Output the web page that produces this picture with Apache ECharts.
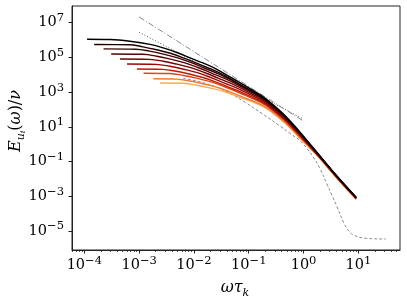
<!DOCTYPE html>
<html><head><meta charset="utf-8">
<script src="https://cdn.jsdelivr.net/npm/echarts@6/dist/echarts.min.js"></script>
<style>html,body{margin:0;padding:0;background:#fff}#c{width:407px;height:303px}</style>
</head><body><div id="c"></div>
<script>
// All values are log10(omega*tau_k) and log10(E/nu)
const xTickExponents = [-4, -3, -2, -1, 0, 1];
const yTickExponents = [-5, -3, -1, 1, 3, 5, 7];

const spectrum1 = [[-3.95,6.05],[-3.53,6.03],[-3.17,5.93],[-2.80,5.75],[-2.56,5.55],[-2.30,5.27],[-2.07,4.97],[-1.85,4.70],[-1.65,4.42],[-1.40,3.98],[-1.16,3.55],[-0.79,2.84],[-0.61,2.42],[-0.34,1.66],[-0.06,0.68],[0.30,-0.68],[0.60,-1.80],[0.96,-3.06]];
const spectrum2 = [[-3.82,5.74],[-3.18,5.73],[-2.93,5.61],[-2.68,5.44],[-2.43,5.24],[-2.18,4.96],[-1.93,4.64],[-1.68,4.32],[-1.43,3.94],[-1.16,3.45],[-0.79,2.77],[-0.61,2.36],[-0.34,1.61],[-0.06,0.64],[0.30,-0.70],[0.60,-1.82],[0.96,-3.07]];
const spectrum3 = [[-3.65,5.49],[-3.06,5.47],[-2.81,5.36],[-2.56,5.19],[-2.31,4.99],[-2.06,4.71],[-1.81,4.39],[-1.56,4.07],[-1.31,3.69],[-1.16,3.41],[-0.79,2.75],[-0.61,2.34],[-0.34,1.59],[-0.06,0.62],[0.30,-0.70],[0.60,-1.82],[0.96,-3.08]];
const spectrum4 = [[-3.51,5.20],[-2.93,5.18],[-2.68,5.07],[-2.43,4.90],[-2.18,4.70],[-1.93,4.42],[-1.68,4.10],[-1.43,3.78],[-1.16,3.36],[-0.79,2.71],[-0.61,2.31],[-0.34,1.56],[-0.06,0.60],[0.30,-0.71],[0.60,-1.83],[0.96,-3.08]];
const spectrum5 = [[-3.35,4.91],[-2.81,4.89],[-2.56,4.78],[-2.31,4.61],[-2.06,4.41],[-1.81,4.13],[-1.56,3.81],[-1.31,3.49],[-1.16,3.26],[-0.79,2.64],[-0.61,2.25],[-0.34,1.51],[-0.06,0.56],[0.30,-0.73],[0.60,-1.84],[0.96,-3.10]];
const spectrum6 = [[-3.22,4.62],[-2.69,4.60],[-2.44,4.49],[-2.19,4.32],[-1.94,4.12],[-1.69,3.84],[-1.44,3.52],[-1.16,3.15],[-0.79,2.56],[-0.61,2.18],[-0.34,1.45],[-0.06,0.52],[0.30,-0.75],[0.60,-1.86],[0.96,-3.11]];
const spectrum7 = [[-3.04,4.33],[-2.57,4.31],[-2.32,4.20],[-2.07,4.03],[-1.82,3.83],[-1.57,3.55],[-1.32,3.23],[-1.16,3.03],[-0.79,2.48],[-0.61,2.11],[-0.34,1.39],[-0.06,0.47],[0.30,-0.77],[0.60,-1.88],[0.96,-3.13]];
const spectrum8 = [[-2.92,4.09],[-2.44,4.07],[-2.19,3.96],[-1.94,3.79],[-1.69,3.59],[-1.44,3.31],[-1.16,2.95],[-0.79,2.42],[-0.61,2.06],[-0.34,1.35],[-0.06,0.43],[0.30,-0.79],[0.60,-1.89],[0.96,-3.14]];
const spectrum9 = [[-2.74,3.77],[-2.32,3.75],[-2.07,3.64],[-1.82,3.47],[-1.57,3.27],[-1.32,2.99],[-1.16,2.79],[-0.79,2.31],[-0.61,1.97],[-0.34,1.27],[-0.06,0.37],[0.30,-0.81],[0.60,-1.92],[0.96,-3.16]];
const spectrum10 = [[-2.62,3.53],[-2.20,3.51],[-1.95,3.40],[-1.70,3.23],[-1.45,3.03],[-1.16,2.70],[-0.79,2.25],[-0.61,1.92],[-0.34,1.22],[-0.06,0.33],[0.30,-0.83],[0.60,-1.93],[0.96,-3.17]];

const dashedModel = [[-2.20,3.80],[-1.90,3.60],[-1.62,3.33],[-1.30,2.86],[-1.04,2.36],[-0.75,1.75],[-0.43,1.05],[-0.25,0.63],[-0.06,0.20],[0.06,-0.24],[0.175,-0.74],[0.30,-1.40],[0.42,-2.25],[0.52,-2.95],[0.61,-3.60],[0.73,-4.50],[0.82,-4.98],[0.91,-5.23],[1.03,-5.37],[1.15,-5.42],[1.30,-5.45],[1.505,-5.46]];
const slopeMinus2 = [[-3,7.33],[0,1.33]];
const slopeMinus53 = [[-3,6.45],[0,1.45]];

const spectra = [spectrum1,spectrum2,spectrum3,spectrum4,spectrum5,spectrum6,spectrum7,spectrum8,spectrum9,spectrum10];
const colors = ['#000000','#1e0000','#3a0000','#560000','#740000','#960803','#bf1a06','#e04418','#f27c2c','#f8aa55'];

const FONT = 'DejaVu Serif';
const X_MIN = -4.225, X_MAX = 1.76, Y_MIN = -6.094, Y_MAX = 7.962;

const minorX = [];
for (let n = -5; n <= 1; n++) for (let k = 2; k <= 9; k++) {
  const v = n + Math.log10(k);
  if (v > X_MIN && v < X_MAX) minorX.push(v);
}
function supLabel(v) {
  const n = Math.round(v);
  return '{b|10}{s|' + (n < 0 ? '\u2212' + (-n) : n) + '}';
}
const tickRich = {
  b: {fontSize: 14.5, fontFamily: FONT, color: '#000', lineHeight: 21},
  s: {fontSize: 11.5, fontFamily: FONT, color: '#000', lineHeight: 12, verticalAlign: 'top'}
};

const series = [];
series.push({type:'line', data: slopeMinus53, showSymbol:false, lineStyle:{color:'#555', width:1, type:[1,2]}, z:1});
series.push({type:'line', data: slopeMinus2, showSymbol:false, lineStyle:{color:'#888', width:1, type:[6,2,1,2]}, z:1});
series.push({type:'line', data: dashedModel, showSymbol:false, smooth:0.4, lineStyle:{color:'#8a8a8a', width:1, type:[3,2]}, z:1});
spectra.forEach((d, i) => {
  series.push({type:'line', data: d, showSymbol:false, smooth:0.4,
    lineStyle:{color: colors[i], width:1.4}, z: 2 + (10 - i)});
});

const chart = echarts.init(document.getElementById('c'), null, {renderer:'canvas'});
chart.setOption({
  animation: false,
  grid: {left:72, right:7, top:6, bottom:53, show:true, borderColor:'#222', borderWidth:1, backgroundColor:'transparent'},
  xAxis: [{
    type:'value', min:X_MIN, max:X_MAX, splitLine:{show:false},
    axisLine:{show:true, onZero:false, lineStyle:{color:'#222', width:1}},
    axisTick:{show:true, length:3.5, customValues:xTickExponents, lineStyle:{color:'#222', width:1}},
    axisLabel:{customValues:xTickExponents, formatter:supLabel, margin:5, rich:tickRich}
  },{
    type:'value', min:X_MIN, max:X_MAX, position:'bottom', splitLine:{show:false},
    axisLine:{show:false, onZero:false},
    axisTick:{show:true, length:2, customValues:minorX, lineStyle:{color:'#222', width:0.8}},
    axisLabel:{show:false}
  }],
  yAxis: [{
    type:'value', min:Y_MIN, max:Y_MAX, splitLine:{show:false},
    axisLine:{show:true, onZero:false, lineStyle:{color:'#222', width:1}},
    axisTick:{show:true, length:3.5, customValues:yTickExponents, lineStyle:{color:'#222', width:1}},
    axisLabel:{customValues:yTickExponents, formatter:supLabel, margin:8, rich:tickRich}
  }],
  graphic: [{
    type:'text', x:235, y:288,
    style:{text:'{i|ωτ}{s|k}', align:'center', verticalAlign:'middle',
      rich:{i:{fontSize:16, fontStyle:'italic', fontFamily:FONT, fill:'#000', lineHeight:22},
            s:{fontSize:11, fontStyle:'italic', fontFamily:FONT, fill:'#000', lineHeight:16, verticalAlign:'bottom'}}}
  },{
    type:'text', x:16, y:121, rotation:Math.PI/2,
    style:{text:'{i|E}{s|u}{ss|i}{n|(}{i|ω}{n|)/}{i|ν}', align:'center', verticalAlign:'middle',
      rich:{i:{fontSize:16, fontStyle:'italic', fontFamily:FONT, fill:'#000', lineHeight:22},
            n:{fontSize:16, fontFamily:FONT, fill:'#000', lineHeight:22},
            s:{fontSize:11, fontStyle:'italic', fontFamily:FONT, fill:'#000', lineHeight:16, verticalAlign:'bottom'},
            ss:{fontSize:8, fontStyle:'italic', fontFamily:FONT, fill:'#000', lineHeight:10, verticalAlign:'bottom'}}}
  }],
  series: series
});
</script></body></html>
